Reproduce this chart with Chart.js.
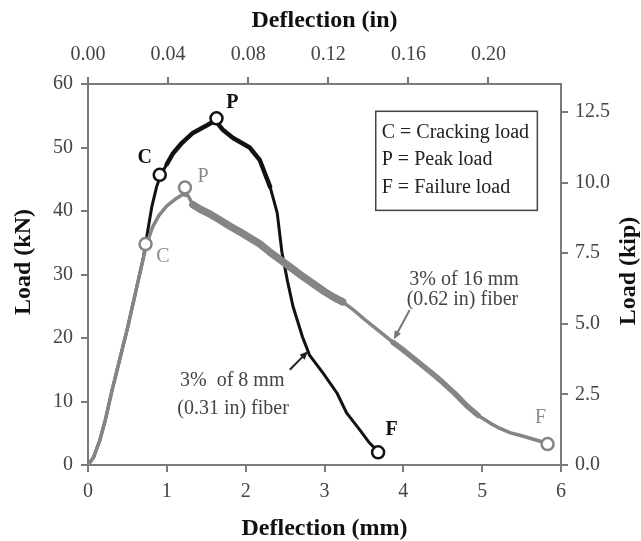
<!DOCTYPE html>
<html>
<head>
<meta charset="utf-8">
<script src="https://cdn.jsdelivr.net/npm/chart.js@4/dist/chart.umd.min.js"></script>
<style>
  html, body { margin: 0; padding: 0; background: #fff; }
  #wrap { width: 641px; height: 541px; }
</style>
</head>
<body>
<div id="wrap"><canvas id="chart" width="641" height="541"></canvas></div>
<script>
// 3% of 8 mm (0.31 in) fiber - black curve
const defl8 = [0, 0.07, 0.15, 0.22, 0.30, 0.40, 0.50, 0.60, 0.70, 0.75, 0.81, 0.87, 0.92, 1.00, 1.08, 1.19, 1.33, 1.51, 1.62, 1.67, 1.71, 1.84, 2.05, 2.18, 2.31, 2.40, 2.46, 2.53, 2.60, 2.72, 2.81, 2.98, 3.16, 3.28, 3.45, 3.57, 3.68];
const load8 = [0, 1.2, 3.9, 7.1, 11.5, 16.5, 21.5, 27.0, 32.5, 36.3, 40.7, 43.8, 45.6, 47.4, 49.1, 50.7, 52.3, 53.5, 54.3, 53.4, 52.8, 51.5, 50.0, 48.0, 43.8, 39.7, 33.5, 29.0, 25.0, 20.2, 17.3, 14.5, 11.3, 8.2, 5.5, 3.5, 2.1];

// 3% of 16 mm (0.62 in) fiber - gray curve
const defl16 = [0, 0.07, 0.15, 0.22, 0.30, 0.40, 0.50, 0.60, 0.70, 0.75, 0.82, 0.90, 1.00, 1.10, 1.20, 1.27, 1.33, 1.42, 1.55, 1.67, 1.80, 1.93, 2.05, 2.18, 2.30, 2.43, 2.56, 2.69, 2.85, 3.00, 3.12, 3.23, 3.35, 3.50, 3.65, 3.87, 4.00, 4.15, 4.37, 4.50, 4.65, 4.80, 4.95, 5.10, 5.22, 5.35, 5.50, 5.64, 5.75, 5.83];
const load16 = [0, 1.2, 3.9, 7.1, 11.5, 16.5, 21.5, 27.0, 32.5, 35.0, 37.5, 39.3, 40.8, 41.8, 42.6, 42.4, 41.0, 40.3, 39.5, 38.6, 37.6, 36.7, 35.8, 34.8, 33.6, 32.4, 31.2, 30.0, 28.6, 27.3, 26.4, 25.7, 24.6, 23.0, 21.5, 19.3, 18.1, 16.6, 14.4, 13.0, 11.3, 9.4, 7.8, 6.6, 5.8, 5.1, 4.6, 4.1, 3.7, 3.3];

// C, P, F points
const markers8Defl = [0.91, 1.63, 3.68];
const markers8Load = [45.7, 54.6, 2.0];
const markers16Defl = [0.73, 1.23, 5.83];
const markers16Load = [34.8, 43.7, 3.3];
const markerNames = ['C', 'P', 'F'];

const MM_PER_IN = 25.4;
const KN_PER_KIP = 4.448;

const SERIF = "'Liberation Serif', 'Times New Roman', serif";
const BLACK = '#111';
const GRAY = '#858585';
const AXIS = '#7a7a7a';

const toPts = (xs, ys) => xs.map((x, i) => ({ x: x, y: ys[i] }));

// label / arrow placement in data units (mm, kN)
const notes = {
  labels8: [[0.72, 48.3], [1.83, 57.0], [3.85, 5.6]],
  labels16: [[0.95, 32.8], [1.46, 45.4], [5.74, 7.4]],
  text8: [['3%  of 8 mm', 1.83, 13.2], ['(0.31 in) fiber', 1.84, 8.8]],
  text16: [['3% of 16 mm', 4.77, 29.1], ['(0.62 in) fiber', 4.75, 26.0]],
  arrow8: [2.56, 15.0, 2.79, 17.9],
  arrow16: [4.08, 24.4, 3.88, 19.8]
};

function drawArrow(ctx, x1, y1, x2, y2, color) {
  const a = Math.atan2(y2 - y1, x2 - x1);
  ctx.save();
  ctx.strokeStyle = color;
  ctx.fillStyle = color;
  ctx.lineWidth = 2;
  ctx.beginPath();
  ctx.moveTo(x1, y1);
  ctx.lineTo(x2 - 6 * Math.cos(a), y2 - 6 * Math.sin(a));
  ctx.stroke();
  ctx.beginPath();
  ctx.moveTo(x2, y2);
  ctx.lineTo(x2 - 9 * Math.cos(a - 0.4), y2 - 9 * Math.sin(a - 0.4));
  ctx.lineTo(x2 - 9 * Math.cos(a + 0.4), y2 - 9 * Math.sin(a + 0.4));
  ctx.closePath();
  ctx.fill();
  ctx.restore();
}

function drawVertTitle(ctx, text, x, y) {
  ctx.save();
  ctx.translate(x, y);
  ctx.rotate(-Math.PI / 2);
  ctx.textAlign = 'center';
  ctx.textBaseline = 'middle';
  ctx.font = 'bold 24px ' + SERIF;
  ctx.fillStyle = BLACK;
  ctx.fillText(text, 0, 0);
  ctx.restore();
}

const notesPlugin = {
  id: 'notes',
  afterDatasetsDraw(chart) {
    const ctx = chart.ctx;
    const xs = chart.scales.x, ys = chart.scales.y;
    const px = v => xs.getPixelForValue(v);
    const py = v => ys.getPixelForValue(v);
    ctx.save();
    ctx.textAlign = 'center';
    ctx.textBaseline = 'middle';

    ctx.font = 'bold 20px ' + SERIF;
    ctx.fillStyle = BLACK;
    notes.labels8.forEach((p, i) => ctx.fillText(markerNames[i], px(p[0]), py(p[1])));
    ctx.font = '20px ' + SERIF;
    ctx.fillStyle = '#8a8a8a';
    notes.labels16.forEach((p, i) => ctx.fillText(markerNames[i], px(p[0]), py(p[1])));

    ctx.font = '20px ' + SERIF;
    ctx.fillStyle = '#444';
    notes.text8.forEach(t => ctx.fillText(t[0], px(t[1]), py(t[2])));
    notes.text16.forEach(t => ctx.fillText(t[0], px(t[1]), py(t[2])));

    const a8 = notes.arrow8, a16 = notes.arrow16;
    drawArrow(ctx, px(a8[0]), py(a8[1]), px(a8[2]), py(a8[3]), '#222');
    drawArrow(ctx, px(a16[0]), py(a16[1]), px(a16[2]), py(a16[3]), '#777');

    // legend box
    const bx = px(3.65), by = py(55.7), bw = px(5.70) - bx, bh = py(40.1) - by;
    ctx.strokeStyle = '#444';
    ctx.lineWidth = 1.5;
    ctx.strokeRect(bx, by, bw, bh);
    ctx.textAlign = 'left';
    ctx.fillStyle = '#222';
    ['C = Cracking load', 'P = Peak load', 'F = Failure load'].forEach((t, i) => {
      ctx.fillText(t, bx + 6, by + 21 + i * 27.5);
    });
    ctx.restore();

    // side titles, both read bottom to top
    drawVertTitle(ctx, 'Load (kN)', 24, 262);
    drawVertTitle(ctx, 'Load (kip)', chart.scales.y2.right - 12, 271);
  }
};

const tickFont = { family: SERIF, size: 20 };
const titleFont = { family: SERIF, size: 24, weight: 'bold', lineHeight: 1 };
const grid = { drawOnChartArea: false, drawTicks: true, tickLength: 7, color: AXIS, lineWidth: 2 };
const border = { color: AXIS, width: 2 };

const markerSet = (xs, ys, color) => ({
  data: toPts(xs, ys),
  showLine: false,
  pointStyle: 'circle',
  pointRadius: 6,
  pointHoverRadius: 6,
  pointBorderWidth: 2.5,
  pointBorderColor: color,
  pointBackgroundColor: '#fff'
});

new Chart(document.getElementById('chart'), {
  type: 'scatter',
  data: {
    datasets: [
      markerSet(markers16Defl, markers16Load, GRAY),
      markerSet(markers8Defl, markers8Load, BLACK),
      {
        data: toPts(defl16, load16),
        showLine: true,
        borderColor: GRAY,
        borderWidth: 4,
        borderCapStyle: 'round',
        borderJoinStyle: 'round',
        pointRadius: 0,
        segment: {
          borderWidth: c => {
            const x = c.p0.parsed.x;
            if (x > 1.3 && x < 3.2) return 7.5;
            if (x > 3.8 && x < 4.95) return 5.5;
            return 3.5;
          }
        }
      },
      {
        data: toPts(defl8, load8),
        showLine: true,
        borderColor: BLACK,
        borderWidth: 3,
        borderCapStyle: 'round',
        borderJoinStyle: 'round',
        pointRadius: 0,
        segment: {
          borderWidth: c => (c.p0.parsed.x > 0.95 && c.p0.parsed.x < 2.2 ? 4.5 : 3)
        }
      }
    ]
  },
  options: {
    responsive: false,
    animation: false,
    layout: { padding: 0 },
    plugins: { legend: { display: false }, tooltip: { enabled: false } },
    scales: {
      x: {
        type: 'linear', position: 'bottom', min: 0, max: 6,
        ticks: { stepSize: 1, font: tickFont, color: '#444', padding: 8 },
        grid: grid, border: border,
        title: { display: true, text: 'Deflection (mm)', font: titleFont, color: BLACK, padding: { bottom: 0 } },
        afterFit: s => { s.height = 76; }
      },
      x2: {
        type: 'linear', position: 'top', min: 0, max: 6 / MM_PER_IN,
        ticks: { stepSize: 0.04, includeBounds: false, font: tickFont, color: '#444', padding: 10, callback: v => v.toFixed(2) },
        grid: grid, border: border,
        title: { display: true, text: 'Deflection (in)', font: titleFont, color: BLACK, padding: { top: 9 } },
        afterFit: s => { s.height = 84; }
      },
      y: {
        type: 'linear', position: 'left', min: 0, max: 60,
        ticks: { stepSize: 10, font: tickFont, color: '#444', padding: 8 },
        grid: grid, border: border,
        afterFit: s => { s.width = 88; }
      },
      y2: {
        type: 'linear', position: 'right', min: 0, max: 60 / KN_PER_KIP,
        ticks: { stepSize: 2.5, includeBounds: false, font: tickFont, color: '#444', padding: 7, callback: v => v.toFixed(1) },
        grid: grid, border: border,
        afterFit: s => { s.width = 80; }
      }
    }
  },
  plugins: [notesPlugin]
});
</script>
</body>
</html>
